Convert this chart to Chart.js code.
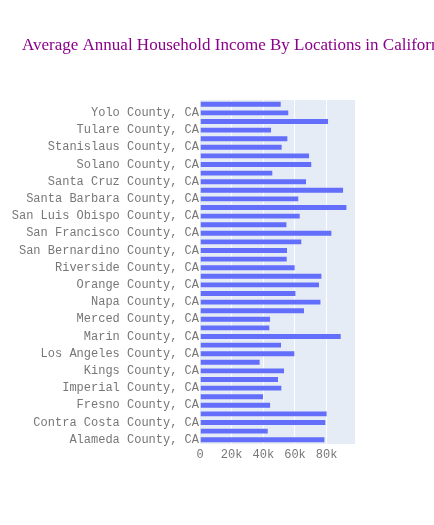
<!DOCTYPE html>
<html>
<head>
<meta charset="utf-8">
<script src="https://cdn.jsdelivr.net/npm/chart.js@4"></script>
<style>
  html, body { margin: 0; padding: 0; background: #ffffff; }
  #wrap { width: 434px; height: 525px; position: relative; }
</style>
</head>
<body>
<div id="wrap"><canvas id="c" width="434" height="525"></canvas></div>
<script>
const titleText = "Average Annual Household Income By Locations in California";

const counties = [
  "Alameda County, CA", "Butte County, CA", "Contra Costa County, CA", "El Dorado County, CA",
  "Fresno County, CA", "Humboldt County, CA", "Imperial County, CA", "Kern County, CA",
  "Kings County, CA", "Lake County, CA", "Los Angeles County, CA", "Madera County, CA",
  "Marin County, CA", "Mendocino County, CA", "Merced County, CA", "Monterey County, CA",
  "Napa County, CA", "Nevada County, CA", "Orange County, CA", "Placer County, CA",
  "Riverside County, CA", "Sacramento County, CA", "San Bernardino County, CA", "San Diego County, CA",
  "San Francisco County, CA", "San Joaquin County, CA", "San Luis Obispo County, CA", "San Mateo County, CA",
  "Santa Barbara County, CA", "Santa Clara County, CA", "Santa Cruz County, CA", "Shasta County, CA",
  "Solano County, CA", "Sonoma County, CA", "Stanislaus County, CA", "Sutter County, CA",
  "Tulare County, CA", "Ventura County, CA", "Yolo County, CA", "Yuba County, CA"
];

const avgIncome = [
  79200, 43400, 79800, 80600,
  44900, 40400, 52000, 49900,
  53700, 38300, 60200, 51800,
  89500, 44400, 44900, 66300,
  76700, 60900, 75800, 77300,
  60400, 55400, 55600, 64600,
  83600, 55200, 63600, 93100,
  62700, 91000, 67600, 46300,
  70900, 69500, 52200, 55800,
  45500, 81500, 56400, 51600
];

const xTickValues = [0, 20000, 40000, 60000, 80000];
const xTickLabels = ["0", "20k", "40k", "60k", "80k"];

const titlePlugin = {
  id: 'plotTitle',
  afterDraw(chart) {
    const ctx = chart.ctx;
    ctx.save();
    ctx.font = "17px 'Liberation Serif', 'Times New Roman', serif";
    ctx.fillStyle = "#8b008b";
    ctx.textBaseline = "alphabetic";
    ctx.textAlign = "left";
    ctx.fillText(titleText, 22, 50);
    ctx.restore();
  }
};

const bgPlugin = {
  id: 'plotBg',
  beforeDraw(chart) {
    const a = chart.chartArea;
    const ctx = chart.ctx;
    ctx.save();
    ctx.fillStyle = "#E5ECF6";
    ctx.fillRect(a.left, a.top, a.right - a.left, a.bottom - a.top);
    ctx.restore();
  }
};

new Chart(document.getElementById('c'), {
  type: 'bar',
  data: {
    labels: counties,
    datasets: [{
      data: avgIncome,
      backgroundColor: "#636EFA",
      borderColor: "rgba(229,236,246,0.55)",
      borderWidth: 1,
      barPercentage: 0.8,
      categoryPercentage: 1.0
    }]
  },
  plugins: [bgPlugin, titlePlugin],
  options: {
    indexAxis: 'y',
    responsive: false,
    animation: false,
    layout: { padding: { left: 0, right: 79, top: 100, bottom: 51 } },
    plugins: {
      legend: { display: false },
      title: { display: false },
      tooltip: { enabled: false }
    },
    scales: {
      x: {
        type: 'linear',
        min: 0,
        max: 97900,
        afterBuildTicks: (s) => { s.ticks = xTickValues.map(v => ({ value: v })); },
        grid: {
          color: (c) => (c.tick && c.tick.value === 0) ? 'rgba(0,0,0,0)' : '#ffffff',
          lineWidth: 1,
          drawTicks: false
        },
        border: { display: false },
        ticks: {
          padding: 4,
          maxRotation: 0,
          autoSkip: false,
          color: "#777777",
          font: { family: "'Liberation Mono', 'Courier New', monospace", size: 12 },
          callback: (v) => {
            const i = xTickValues.indexOf(v);
            return i >= 0 ? xTickLabels[i] : '';
          }
        },
        afterFit: (s) => { s.height = 30; }
      },
      y: {
        type: 'category',
        reverse: true,
        grid: { display: false, drawTicks: false },
        border: { display: false },
        ticks: {
          autoSkip: false,
          padding: 1,
          color: "#777777",
          font: { family: "'Liberation Mono', 'Courier New', monospace", size: 12 },
          callback: function(v, i) { return i % 2 === 0 ? this.getLabelForValue(v) : ''; }
        },
        afterFit: (s) => { s.width = 200; }
      }
    }
  }
});
</script>
</body>
</html>
